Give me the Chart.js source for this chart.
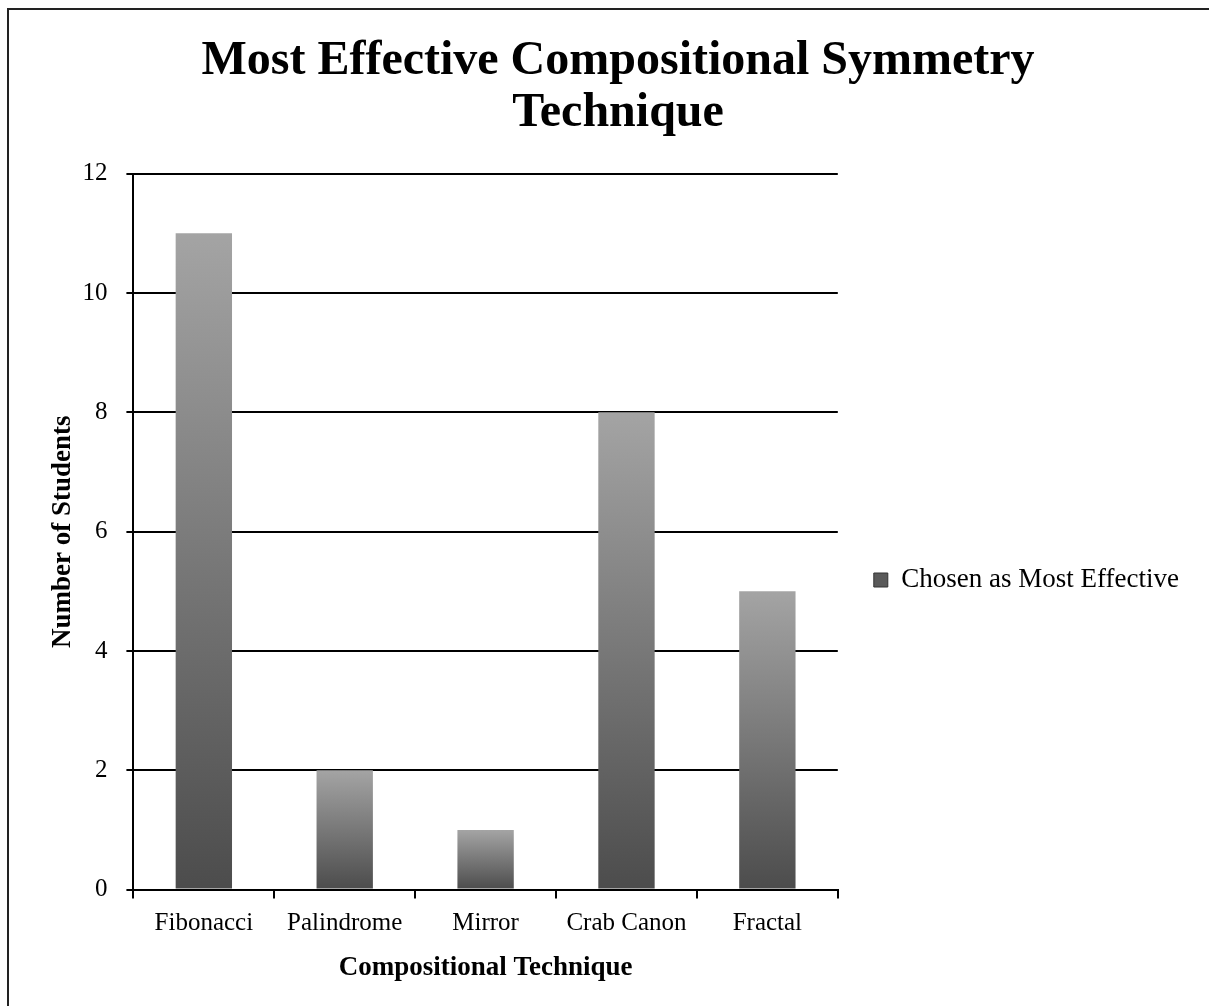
<!DOCTYPE html>
<html>
<head>
<meta charset="utf-8">
<script src="https://cdn.jsdelivr.net/npm/chart.js@4.4.0/dist/chart.umd.min.js"></script>
<style>
  html, body { margin: 0; padding: 0; background: #fff; }
  #frame {
    position: absolute; left: 7px; top: 8px;
    width: 1202px; height: 998px;
    border-left: 2px solid #222; border-top: 2px solid #222;
  }
  #chart { display: block; }
</style>
</head>
<body>
<div id="frame"><canvas id="chart" width="1200" height="996"></canvas></div>
<script>
// data
const techniques = ['Fibonacci', 'Palindrome', 'Mirror', 'Crab Canon', 'Fractal'];
const studentCounts = [11, 2, 1, 8, 5];
const seriesLabel = 'Chosen as Most Effective';

const serif = "'Liberation Serif', 'Times New Roman', serif";

// each bar gets its own vertical fade, light at top, dark at the base
function barGradient(context) {
    const chart = context.chart;
    const yScale = chart.scales.y;
    if (!yScale || context.type !== 'data') return '#777';
    const top = yScale.getPixelForValue(context.raw);
    const base = yScale.getPixelForValue(0);
    const g = chart.ctx.createLinearGradient(0, top, 0, base);
    g.addColorStop(0, '#a4a4a4');
    g.addColorStop(1, '#4c4c4c');
    return g;
}

new Chart(document.getElementById('chart').getContext('2d'), {
    type: 'bar',
    data: {
        labels: techniques,
        datasets: [{
            label: seriesLabel,
            data: studentCounts,
            backgroundColor: barGradient,
            borderWidth: 0,
            categoryPercentage: 0.8,
            barPercentage: 0.5
        }]
    },
    options: {
        responsive: false,
        animation: false,
        layout: { padding: { left: 38, right: 20, top: 0, bottom: 22 } },
        plugins: {
            title: {
                display: true,
                text: ['Most Effective Compositional Symmetry', 'Technique'],
                color: '#000',
                font: { family: serif, size: 48, weight: 'bold', lineHeight: 1.08 },
                padding: { top: 26, bottom: 34 }
            },
            legend: {
                position: 'right',
                maxWidth: 420,
                title: {
                    display: true,
                    text: ' ',
                    font: { size: 10 },
                    padding: { top: 0, bottom: 154 }
                },
                labels: {
                    color: '#000',
                    font: { family: serif, size: 27 },
                    boxWidth: 14,
                    boxHeight: 14,
                    padding: 36,
                    generateLabels: function(chart) {
                        return [{
                            text: seriesLabel,
                            fillStyle: '#5a5a5a',
                            strokeStyle: '#333',
                            fontColor: '#000',
                            lineWidth: 1,
                            hidden: false,
                            datasetIndex: 0
                        }];
                    }
                }
            },
            tooltip: { enabled: false }
        },
        scales: {
            x: {
                grid: {
                    offset: true,
                    drawOnChartArea: false,
                    drawTicks: true,
                    tickLength: 9,
                    color: '#000',
                    lineWidth: 2
                },
                border: { color: '#000', width: 2 },
                ticks: {
                    color: '#000',
                    font: { family: serif, size: 25 },
                    padding: 10
                },
                title: {
                    display: true,
                    text: 'Compositional Technique',
                    color: '#000',
                    font: { family: serif, size: 27, weight: 'bold' },
                    padding: { top: 3, bottom: 0 }
                }
            },
            y: {
                min: 0,
                max: 12,
                ticks: {
                    stepSize: 2,
                    color: '#000',
                    font: { family: serif, size: 25 },
                    padding: 19
                },
                grid: {
                    color: '#000',
                    lineWidth: 2,
                    tickLength: 7
                },
                border: { color: '#000', width: 2 },
                title: {
                    display: true,
                    text: 'Number of Students',
                    color: '#000',
                    font: { family: serif, size: 27, weight: 'bold' },
                    padding: { top: 0, bottom: -16 }
                }
            }
        }
    }
});
</script>
</body>
</html>
